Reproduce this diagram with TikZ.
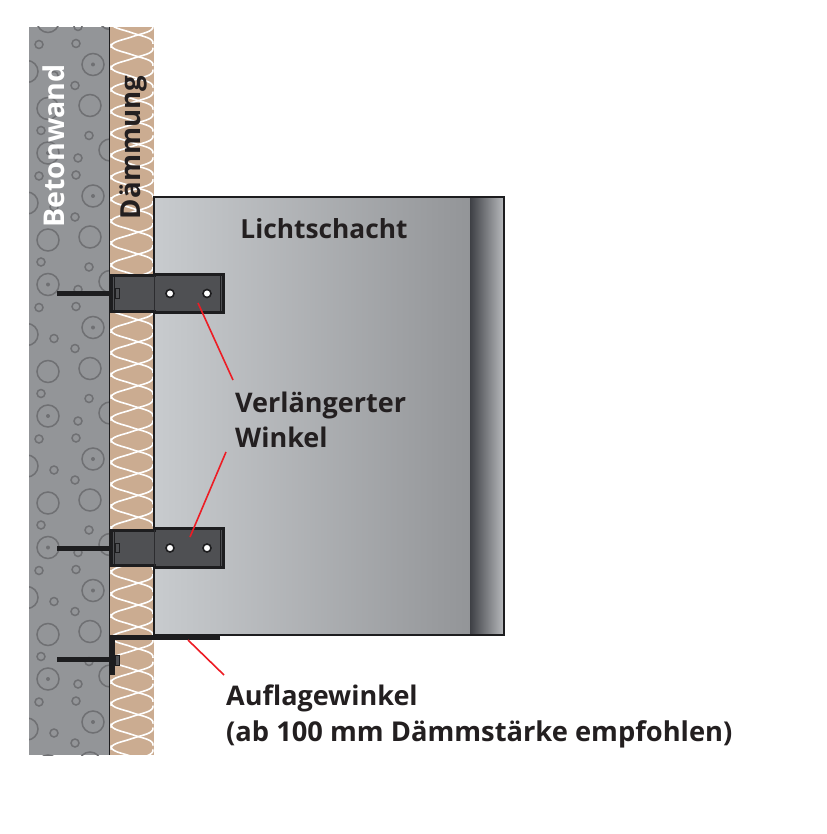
\documentclass[tikz,border=0pt]{standalone}
\usepackage{fontspec}
\setmainfont{Open Sans}
\begin{document}
\begin{tikzpicture}[x=1pt,y=-1pt,
		every node/.style={font=\fontsize{27}{35}\selectfont\bfseries, text=textdark, inner sep=0pt},
		pore/.style={draw=poregray, line width=1.5pt},
		weave/.style={draw=white, line width=1.6pt},
		plate/.style={draw=steelblack, line width=3pt, fill=steelgray},
		screwshaft/.style={draw=steelblack, line width=5pt},
		nub/.style={draw=steelblack, line width=1pt, fill=steelgray},
		leader/.style={draw=leadred, line width=1.6pt},
		hole/.style={draw=steelblack, fill=white, line width=1.6pt, circle, minimum size=8pt}]
	\definecolor{textdark}{HTML}{231F20}
	\definecolor{poregray}{HTML}{6F7073}
	\definecolor{steelblack}{HTML}{1D1D1F}
	\definecolor{steelgray}{HTML}{4F5053}
	\definecolor{leadred}{HTML}{ED1C24}
	\definecolor{wallgray}{HTML}{939598}
	\definecolor{foamtan}{HTML}{CBAC91}
	\definecolor{welllight}{HTML}{C8CBCE}
	\definecolor{stripdark}{HTML}{3E4045}
	\definecolor{striplight}{HTML}{B9BBBE}
	\useasboundingbox (0,0) rectangle (826,834);

	% wall
	\fill[wallgray] (29,27) rectangle (109,755);
	\begin{scope}
		\clip (29,27) rectangle (109,755);
		\foreach \k in {-1,0,1,2,3,4,5} {
			\begin{scope}[yshift=-\k*131.5pt]
				\foreach \x/\y/\r in {110/150/11, 78/158/4, 39/176/4, 76/175/4, 27/203/11, 54/207/4, 75/217/4, 48/240/11, 90/237/11, 41/262/4, 89/267/4} {
					\draw[pore] (\x,\y) circle (\r);
				}
				\foreach \x/\y in {48/153, 93/196} {
					\draw[pore] (\x,\y) circle (11);
					\fill[poregray] (\x,\y) circle (2);
				}
			\end{scope}
		}
	\end{scope}

	% insulation
	\fill[foamtan] (110,27) rectangle (154,755);
	\begin{scope}
		\clip (110,27) rectangle (154,755);
		\foreach \k in {-1,...,34} {
			\begin{scope}[yshift=-\k*21.93pt]
				\draw[weave] (111,21.8) .. controls (110,28) and (122,29.2) .. (132,32.8) .. controls (142,36.4) and (154,37.6) .. (153,43.8);
				\draw[weave] (153,25.8) .. controls (154,32) and (142,33.2) .. (132,36.8) .. controls (122,40.4) and (110,41.6) .. (111,47.8);
			\end{scope}
		}
	\end{scope}
	\draw[steelblack, line width=1.3pt] (109.5,27) -- (109.5,755);

	% light well
	\shade[left color=welllight, right color=wallgray] (154,197) rectangle (470,635);
	\shade[left color=stripdark, right color=striplight] (470,197) rectangle (504,635);
	\draw[steelblack, line width=1.3pt] (154,635) -- (154,197) -- (504,197) -- (504,635) -- (154,635);

	% upper and lower bracket
	\foreach \name/\d in {upper/0, lower/254.5} {
		\begin{scope}[yshift=-\d pt]
			\draw[screwshaft] (57,293.5) -- (110,293.5);
			\draw[plate] (111,275.5) -- (154,275.5) -- (154,274) -- (223,274) -- (223,312.5) -- (154,312.5) -- (154,311) -- (111,311) -- cycle;
			\draw[steelblack, line width=1.6pt] (114.5,275.5) -- (114.5,311);
			\draw[steelblack!70!steelgray, line width=0.7pt] (154,275.5) -- (154,311);
			\draw[steelblack, line width=0.7pt] (220.5,275) -- (220.5,311.5);
			\draw[nub] (115,288.5) rectangle (119,298);
			\node[hole] (\name left) at (170,293.5) {};
			\node[hole] (\name right) at (207,293.5) {};
		\end{scope}
	}

	% support angle
	\draw[screwshaft] (57,659.5) -- (110,659.5);
	\draw[nub] (115,655) rectangle (119.5,665);
	\draw[steelblack, line width=5pt] (220,637.5) -- (112.5,637.5) -- (112.5,675);

	% texts
	\node[text=white, rotate=90, anchor=center, font=\fontsize{28.6}{35}\selectfont\bfseries] (betonwand) at (54,146) {Betonwand};
	\node[rotate=90, anchor=center, font=\fontsize{27.6}{35}\selectfont\bfseries] (daemmung) at (133,147.5) {Dämmung};
	\node[anchor=base, font=\fontsize{26.3}{35}\selectfont\bfseries] (lichtschacht) at (324,238) {Lichtschacht};
	\node[anchor=base west] (verl) at (235,412) {Verlängerter};
	\node[anchor=base west] (winkel) at (235,447) {Winkel};
	\node[anchor=base west] (auflage) at (226,705) {Auflagewinkel};
	\node[anchor=base west, font=\fontsize{27.3}{35}\selectfont\bfseries] (empf) at (226,741) {(ab 100 mm Dämmstärke empfohlen)};

	% leaders
	\coordinate (uppertip) at (198,303);
	\coordinate (upperend) at (233,380);
	\coordinate (lowertip) at (190,537);
	\coordinate (lowerend) at (226,452);
	\coordinate (angletip) at (188,640);
	\coordinate (angleend) at (224,675);
	\draw[leader] (upperend) -- (uppertip);
	\draw[leader] (lowerend) -- (lowertip);
	\draw[leader] (angleend) -- (angletip);
\end{tikzpicture}
\end{document}
